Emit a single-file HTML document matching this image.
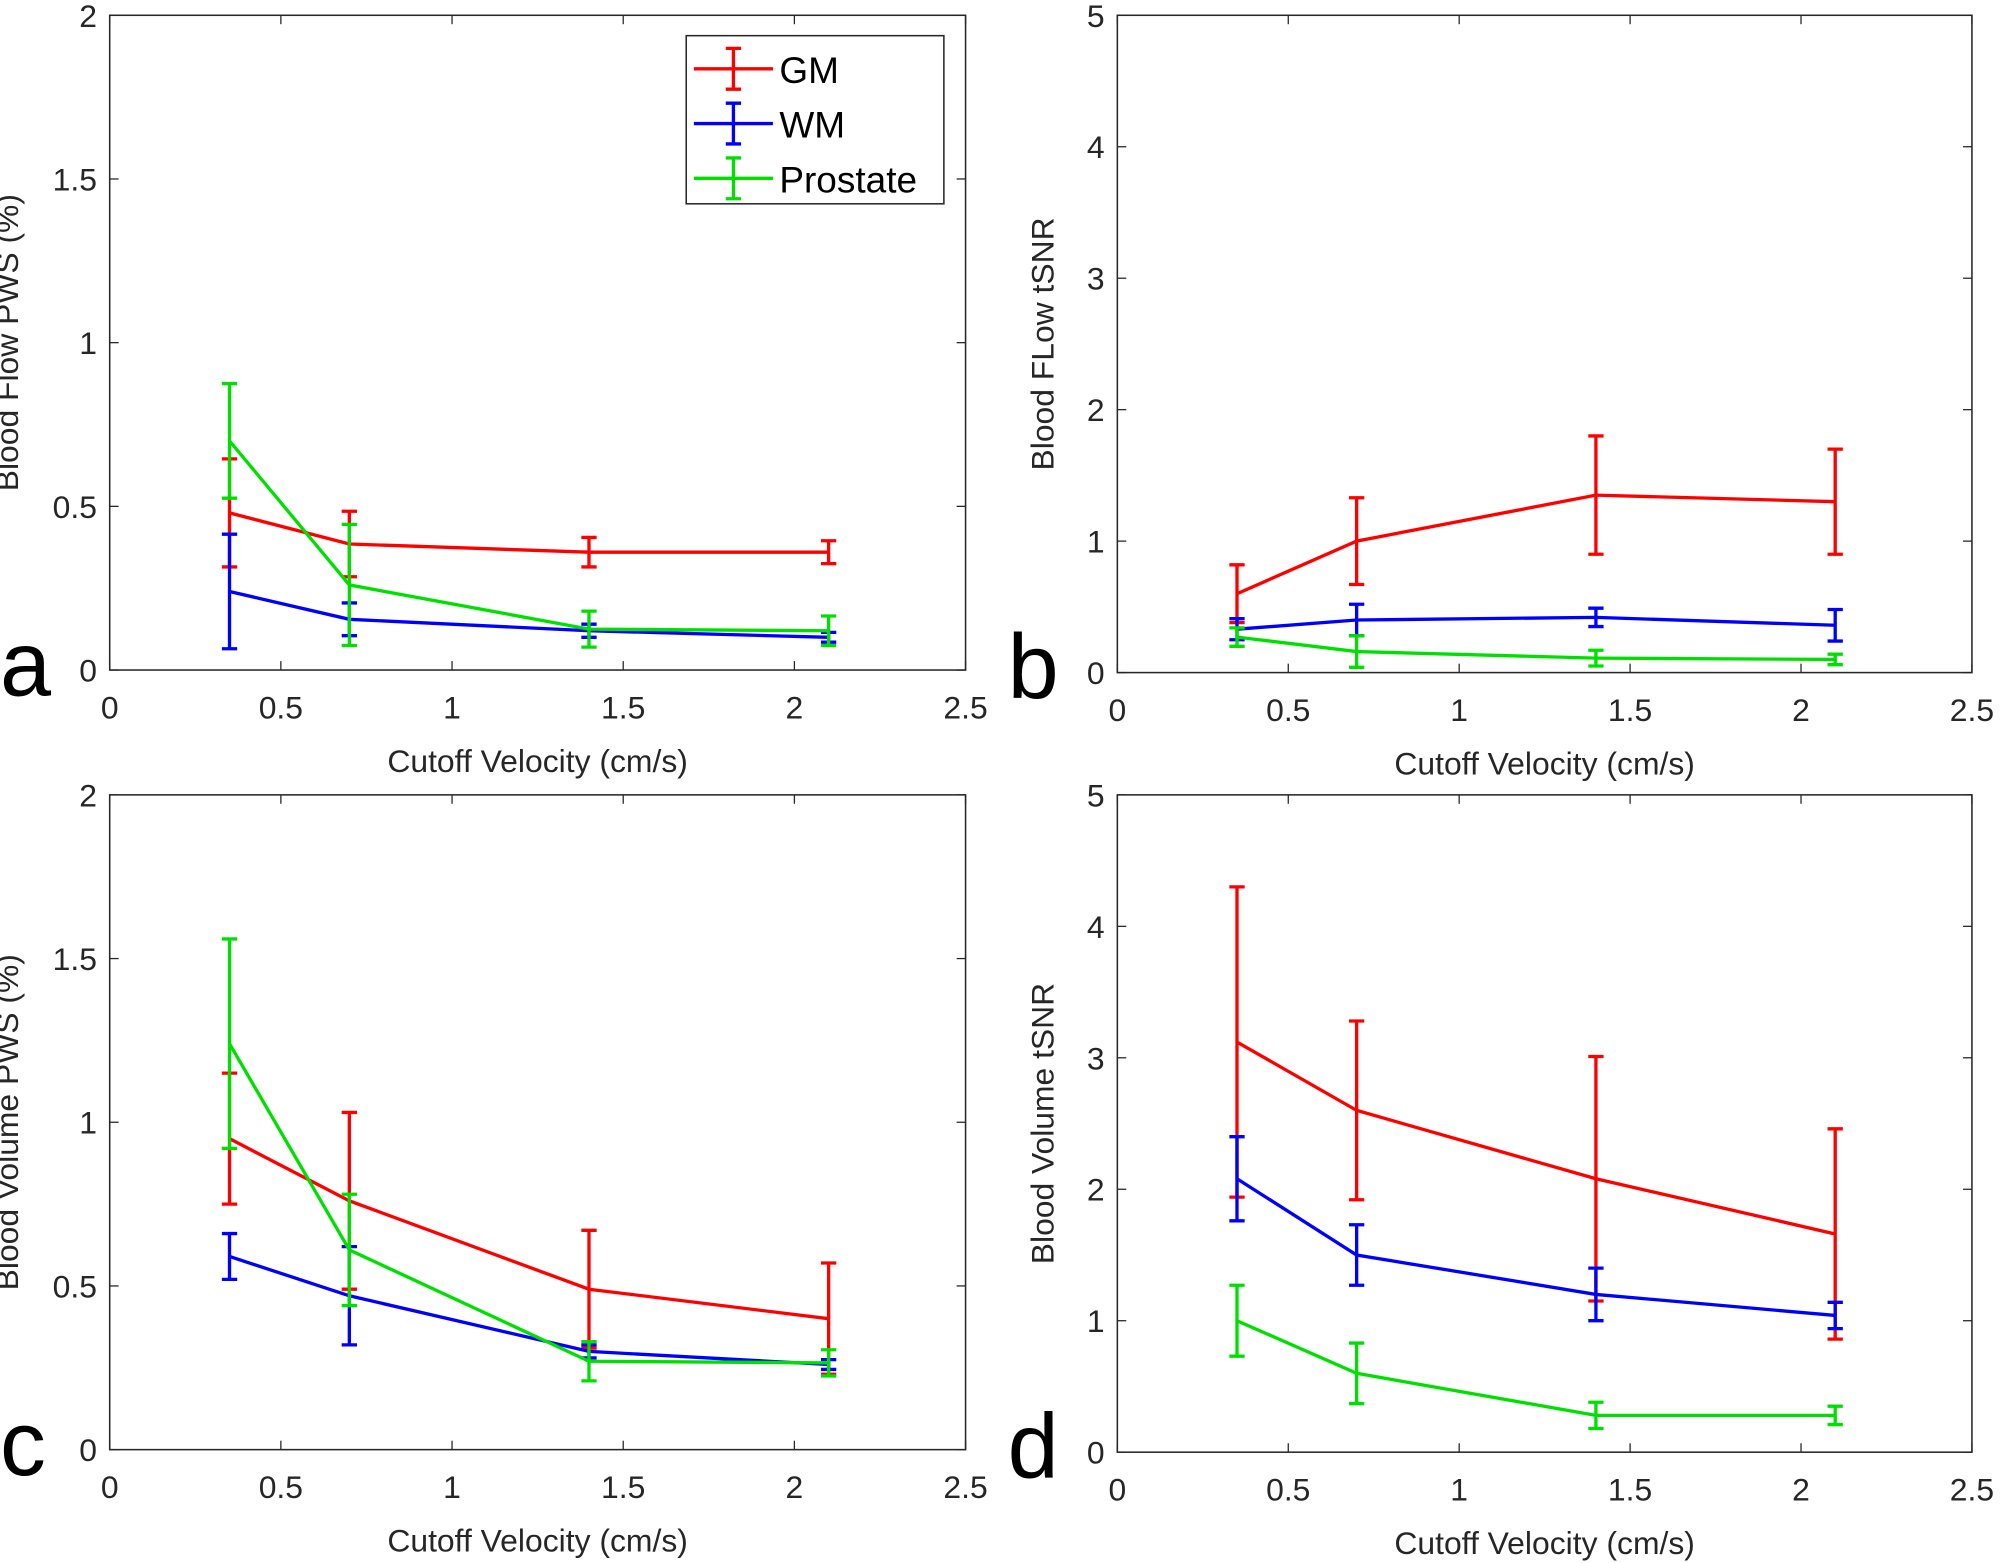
<!DOCTYPE html>
<html><head><meta charset="utf-8"><style>
html,body{margin:0;padding:0;background:#fff;}
svg{display:block;}
text{font-family:"Liberation Sans",Arial,sans-serif;fill:#262626;}
</style></head><body>
<svg id="fig" width="2000" height="1563" viewBox="0 0 1568 1227" preserveAspectRatio="none" xmlns="http://www.w3.org/2000/svg"></svg>
<script>
const xVals=[0.35,0.7,1.4,2.1];
const xTicks=[0,0.5,1,1.5,2,2.5];
const yTicksPWS=[0,0.5,1,1.5,2];
const yTicksSNR=[0,1,2,3,4,5];
const seriesNames=["GM","WM","Prostate"];
const aGM=[0.48,0.385,0.36,0.36], aGMe=[0.165,0.1,0.045,0.035];
const aWM=[0.24,0.155,0.12,0.10], aWMe=[0.175,0.05,0.02,0.015];
const aPr=[0.70,0.26,0.125,0.12], aPre=[0.175,0.185,0.055,0.045];
const bGM=[0.6,1.0,1.35,1.3], bGMe=[0.22,0.33,0.45,0.4];
const bWM=[0.33,0.4,0.42,0.36], bWMe=[0.08,0.12,0.07,0.12];
const bPr=[0.27,0.16,0.11,0.1], bPre=[0.07,0.12,0.06,0.04];
const cGM=[0.95,0.76,0.49,0.4], cGMe=[0.2,0.27,0.18,0.17];
const cWM=[0.59,0.47,0.30,0.26], cWMe=[0.07,0.15,0.02,0.015];
const cPr=[1.24,0.61,0.27,0.265], cPre=[0.32,0.17,0.06,0.04];
const dGM=[3.12,2.6,2.08,1.66], dGMe=[1.18,0.68,0.93,0.8];
const dWM=[2.08,1.5,1.2,1.04], dWMe=[0.32,0.23,0.2,0.1];
const dPr=[1.0,0.6,0.28,0.28], dPre=[0.27,0.23,0.1,0.07];
const colors=["#ff0000","#0000ff","#00e000"];
const NS="http://www.w3.org/2000/svg";
const svg=document.getElementById('fig');
function mk(tag,attrs,parent){const e=document.createElementNS(NS,tag);for(const k in attrs)e.setAttribute(k,attrs[k]);(parent||svg).appendChild(e);return e;}
function panel(key,L,R,T,B,ymax,yticks,ylabel,letter,data,legend,yoff){
  const g=mk('g',{});
  
  
  const sx=v=>L+(v/2.5)*(R-L), sy=v=>B-(v/ymax)*(B-T);
  const box=mk('rect',{x:L,y:T,width:R-L,height:B-T,fill:'#fff',stroke:'#262626','stroke-width':1.2},g);
  
  
  xTicks.forEach(t=>{
    mk('line',{x1:sx(t),x2:sx(t),y1:B,y2:B-7,stroke:'#262626'},g);
    mk('line',{x1:sx(t),x2:sx(t),y1:T,y2:T+7,stroke:'#262626'},g);
    const tx=mk('text',{x:sx(t),y:B+38,'font-size':25,'text-anchor':'middle'},g);tx.textContent=String(t);
    
    
  });
  yticks.forEach(t=>{
    mk('line',{x1:L,x2:L+7,y1:sy(t),y2:sy(t),stroke:'#262626'},g);
    mk('line',{x1:R,x2:R-7,y1:sy(t),y2:sy(t),stroke:'#262626'},g);
    const ty=mk('text',{x:L-10,y:sy(t)+9,'font-size':25,'text-anchor':'end'},g);ty.textContent=String(t);
    
    
  });
  const xl=mk('text',{x:(L+R)/2,y:B+80,'font-size':25,'text-anchor':'middle'},g);xl.textContent='Cutoff Velocity (cm/s)';
  
  
  const yx=L-yoff, yy=(T+B)/2;
  const yl=mk('text',{x:yx,y:yy,'font-size':25,'text-anchor':'middle',transform:`rotate(-90 ${yx} ${yy})`},g);yl.textContent=ylabel;
  
  
  const lt=mk('text',{x:L-86,y:B+20,'font-size':72,fill:'#000'},g);lt.textContent=letter;lt.style.fill='#000';
  
  
  data.forEach((s,i)=>{
    const [vals,errs]=s;
    const pts=vals.map((v,j)=>sx(xVals[j])+','+sy(v)).join(' ');
    const pl=mk('polyline',{points:pts,fill:'none',stroke:colors[i],'stroke-width':2.6},g);
    
    
    vals.forEach((v,j)=>{
      const x=sx(xVals[j]),y1=sy(v-errs[j]),y2=sy(v+errs[j]);
      const eb=mk('path',{d:`M${x},${y1}V${y2}M${x-6},${y1}H${x+6}M${x-6},${y2}H${x+6}`,stroke:colors[i],'stroke-width':2.6,fill:'none'},g);
      
      
    });
  });
  if(legend){
    const lg=mk('g',{},g);
    
    
    mk('rect',{x:538,y:28,width:202,height:132,fill:'#fff',stroke:'#262626','stroke-width':1.2},lg);
    seriesNames.forEach((n,i)=>{
      const y=54+i*43;
      const e=mk('g',{},lg);
      
      
      mk('path',{d:`M544,${y}H606M575,${y-16}V${y+16}M569,${y-16}H581M569,${y+16}H581`,stroke:colors[i],'stroke-width':2.6,fill:'none'},e);
      const t=mk('text',{x:611,y:y+11,'font-size':29},e);t.textContent=n;t.style.fill='#000';
    });
  }
}
panel('a',86,757,12,526,2,yTicksPWS,'Blood Flow PWS (%)','a',[[aGM,aGMe],[aWM,aWMe],[aPr,aPre]],true,72);
panel('b',876,1546,12,528,5,yTicksSNR,'Blood FLow tSNR','b',[[bGM,bGMe],[bWM,bWMe],[bPr,bPre]],false,50);
panel('c',86,757,624,1138,2,yTicksPWS,'Blood Volume PWS (%)','c',[[cGM,cGMe],[cWM,cWMe],[cPr,cPre]],false,72);
panel('d',876,1546,624,1140,5,yTicksSNR,'Blood Volume tSNR','d',[[dGM,dGMe],[dWM,dWMe],[dPr,dPre]],false,50);
</script>
</body></html>
